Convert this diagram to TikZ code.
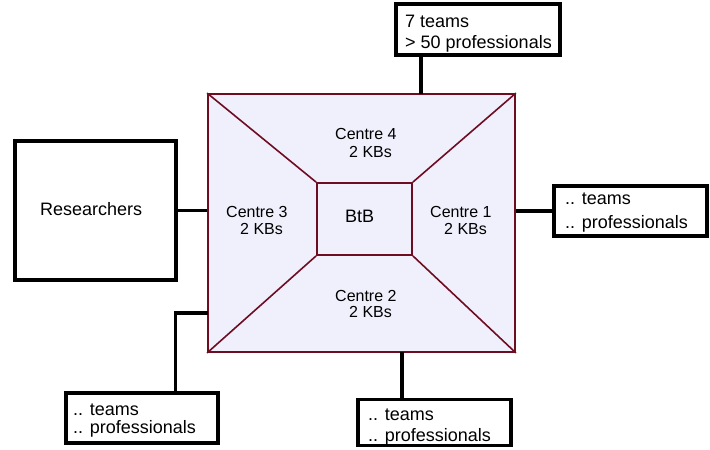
\documentclass[tikz,border=0pt]{standalone}
\usepackage{fontspec}
\setmainfont{Liberation Sans}
\definecolor{maroon}{RGB}{110,12,34}
\definecolor{lav}{RGB}{240,240,252}
\tikzset{
  box/.style={draw=black, line width=3.6pt, fill=white, inner sep=0pt, rectangle},
  sq/.style={draw=maroon, line width=1.8pt, fill=lav, inner sep=0pt, rectangle},
  diag/.style={draw=maroon, line width=1.6pt},
  conn/.style={draw=black, line width=3.6pt, line join=miter},
  big/.style={font=\fontsize{18}{21}\selectfont, inner sep=0pt, anchor=base west},
  small/.style={font=\fontsize{16}{18}\selectfont, inner sep=0pt, anchor=base west}
}
\begin{document}
\begin{tikzpicture}[x=1pt,y=-1pt]
\useasboundingbox (0,0) rectangle (710,450);
% central square
\node[sq, minimum width=307pt, minimum height=258pt] (outer) at (361.5,223) {};
\node[sq, minimum width=95pt, minimum height=72pt] (btb) at (364.5,219) {};
\draw[diag] (outer.north west) -- (btb.north west);
\draw[diag] (outer.north east) -- (btb.north east);
\draw[diag] (outer.south west) -- (btb.south west);
\draw[diag] (outer.south east) -- (btb.south east);
% connectors
\coordinate (c4) at (421,94);
\coordinate (c2) at (402,352);
\coordinate (c3) at (208,313);
\coordinate (k) at (175.5,392.5);
% boxes
\node[box, minimum width=164.5pt, minimum height=51.5pt] (top) at (478,29.5) {};
\node[box, minimum width=161.5pt, minimum height=139.5pt] (res) at (95.5,210.5) {};
\node[box, minimum width=153.5pt, minimum height=50.5pt] (rbox) at (630.5,211) {};
\node[box, minimum width=152.5pt, minimum height=50.5pt] (blbox) at (142,418) {};
\node[box, minimum width=153.5pt, minimum height=46pt] (bbox) at (434.5,422.5) {};
\draw[conn] (top.south -| c4) -- (c4);
\draw[conn] (res.east) -- (res.east -| outer.west);
\draw[conn] (rbox.west) -- (rbox.west -| outer.east);
\draw[conn] (c2) -- (c2 |- bbox.north);
\draw[conn] (c3) -| (k);
% texts
\node[big] (t1a) at (405,27) {7 teams};
\node[big] (t1b) at (405,48) {> 50 professionals};
\node[big] (rt) at (40,215) {Researchers};
\node[big] (r1a) at (565,204) {.. teams};
\node[big] (r1b) at (565,228) {.. professionals};
\node[big] (l1a) at (73,415) {.. teams};
\node[big] (l1b) at (73,433.5) {.. professionals};
\node[big] (b1a) at (368,420) {.. teams};
\node[big] (b1b) at (368,441) {.. professionals};
\node[big] (bt) at (345,222.7) {BtB};
\node[small] (c4a) at (335,139) {Centre 4};
\node[small] (c4b) at (349,157) {2 KBs};
\node[small] (c3a) at (226,217.3) {Centre 3};
\node[small] (c3b) at (240,234.3) {2 KBs};
\node[small] (c1a) at (430,217.3) {Centre 1};
\node[small] (c1b) at (444,234) {2 KBs};
\node[small] (c2a) at (335,301.7) {Centre 2};
\node[small] (c2b) at (349,317.7) {2 KBs};
\end{tikzpicture}
\end{document}
